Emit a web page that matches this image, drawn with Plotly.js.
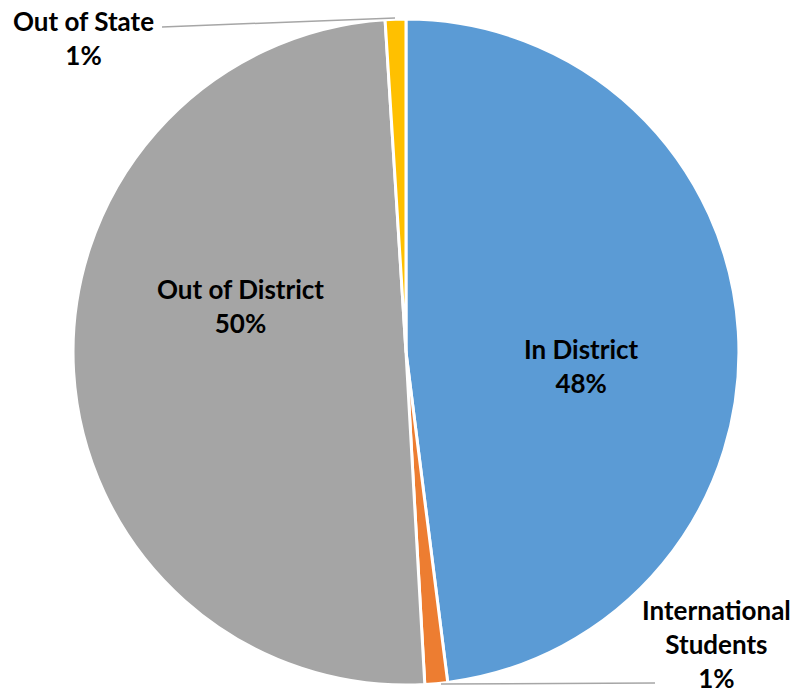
<!DOCTYPE html>
<html>
<head>
<meta charset="utf-8">
<script src="https://cdn.plot.ly/plotly-3.0.1.min.js"></script>
<style>html,body{margin:0;padding:0;background:#fff;}#chart{width:798px;height:694px;}</style>
</head>
<body>
<div id="chart"></div>
<script>
const labels = ["In District", "International Students", "Out of District", "Out of State"];
const labelLines = ["In District", "International<br>Students", "Out of District", "Out of State"];
const values = [48.0, 1.1, 49.9, 1.0];
const percentText = ["48%", "1%", "50%", "1%"];
const colors = ["#5B9BD5", "#ED7D31", "#A5A5A5", "#FFC000"];

const font = {family: "Lato, 'Open Sans', sans-serif", size: 26, color: "#000"};

const trace = {
  type: "pie",
  labels: labels,
  values: values,
  sort: false,
  direction: "clockwise",
  rotation: 0,
  marker: {colors: colors, line: {color: "#ffffff", width: 3}},
  textinfo: "none",
  textposition: "none",
  hoverinfo: "none",
  domain: {x: [0.0915, 0.926], y: [0.0115, 0.974]}
};

// label anchor centres (pixels) for each slice label
const labelCenters = [[581, 366], [716, 644], [240, 306], [83, 38]];
const W = 798, H = 694;

const annotations = labels.map((l, i) => ({
  x: labelCenters[i][0] / W, y: 1 - labelCenters[i][1] / H,
  xref: "paper", yref: "paper", xanchor: "center", yanchor: "middle",
  text: "<b>" + labelLines[i] + "<br>" + percentText[i] + "</b>",
  showarrow: false, font: font, align: "center"
}));

const layout = {
  width: W, height: H,
  margin: {l: 0, r: 0, t: 0, b: 0},
  showlegend: false,
  paper_bgcolor: "#fff",
  annotations: annotations,
  shapes: [
    {type: "line", xref: "paper", yref: "paper", x0: 162/W, y0: 1-27/H, x1: 395/W, y1: 1-18/H, line: {color: "#A6A6A6", width: 1.5}},
    {type: "line", xref: "paper", yref: "paper", x0: 441/W, y0: 1-684/H, x1: 655/W, y1: 1-683/H, line: {color: "#A6A6A6", width: 1.5}}
  ]
};

Plotly.newPlot("chart", [trace], layout, {displayModeBar: false, staticPlot: true});
</script>
</body>
</html>
